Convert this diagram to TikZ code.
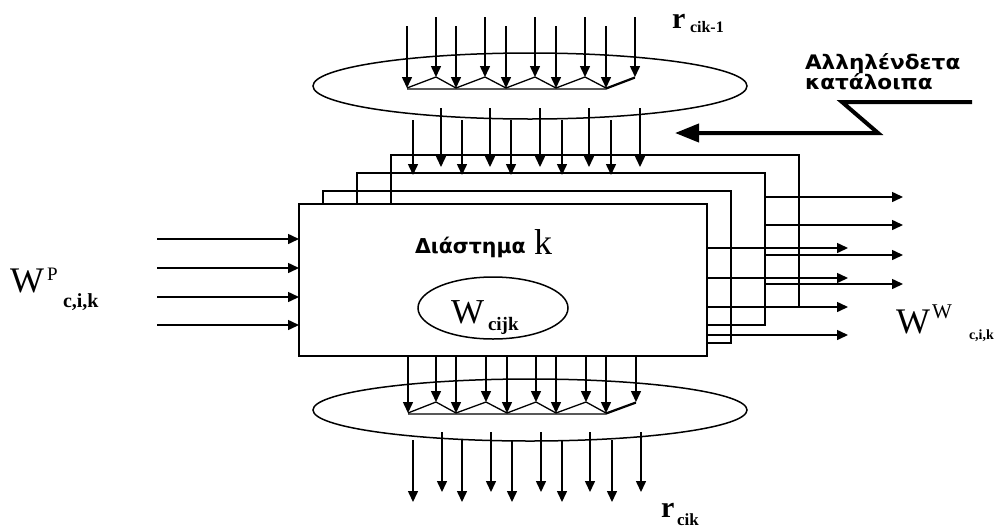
\documentclass[tikz,border=0pt]{standalone}
\usepackage{fontspec}
\setmainfont{Liberation Serif}
\newfontfamily\grk{DejaVu Sans}
\usetikzlibrary{arrows.meta,shapes.geometric}
\begin{document}
\begin{tikzpicture}[x=1pt,y=-1pt, line width=1.5pt,
  arr/.style={-{Triangle[length=11pt,width=10pt]}},
  lbl/.style={anchor=base west, inner sep=0pt, outer sep=0pt},
  grklbl/.style={lbl, font={\grk\bfseries\fontsize{20}{20}\selectfont}},
  layer/.style={draw, minimum width=408pt, minimum height=152pt, anchor=north west, inner sep=0pt, outer sep=0pt},
  fan/.style={line width=1.3pt}]
\useasboundingbox (0,0) rectangle (996,528);
% stacked layers
\node[layer] (r4) at (391,155) {};
\node[layer] (r3) at (357,173) {};
\node[layer] (r2) at (323,191) {};
\node[layer, fill=white] (front) at (299,204) {};
% top ellipse
\node[draw, ellipse, minimum width=434pt, minimum height=66pt, inner sep=0pt] (etop) at (530,86) {};
\foreach \x in {436,485,535,585,635} \draw[arr] (\x,17) -- (\x,77);
\foreach \x in {407,456,506,556,606} \draw[arr] (\x,26) -- (\x,88);
\draw[fan] (407,88) -- (436,77) -- (456,88) -- (485,77) -- (506,88) -- (535,77) -- (556,88) -- (585,77) -- (606,88) -- (635,77);
\draw[fan] (407,89) -- (456,89) -- (506,89) -- (556,89) -- (606,89) -- (635,78);
% arrows into the layers
\foreach \x in {441,490,540,589,640} \draw[arr] (\x,108) -- (\x,167);
\foreach \x in {413,462,511,562,611} \draw[arr] (\x,120) -- (\x,175);
% left inputs
\foreach \y in {239,268,297,325} \draw[arr] (157,\y) -- (299,\y);
% right outputs
\foreach \y in {197,225,255,284} \draw[arr] (766,\y) -- (903,\y);
\foreach \y in {248,278,307,335} \draw[arr] (707,\y) -- (848,\y);
% bottom ellipse
\node[draw, ellipse, minimum width=434pt, minimum height=62pt, inner sep=0pt] (ebot) at (530,410) {};
\foreach \x in {436,486,536,586,636} \draw[arr] (\x,356) -- (\x,402);
\foreach \x in {408,456,507,556,606} \draw[arr] (\x,356) -- (\x,413);
\draw[fan] (408,413) -- (436,402) -- (456,413) -- (486,402) -- (507,413) -- (536,402) -- (556,413) -- (586,402) -- (606,413) -- (636,402);
\draw[fan] (408,414) -- (456,414) -- (507,414) -- (556,414) -- (606,414) -- (636,403);
\foreach \x in {442,491,541,590,641} \draw[arr] (\x,432) -- (\x,492);
\foreach \x in {413,462,512,562,612} \draw[arr] (\x,440) -- (\x,502);
% inner ellipse
\node[draw, ellipse, minimum width=150pt, minimum height=62pt, inner sep=0pt] (wc) at (493,308) {};
% thick arrow
\coordinate (ts) at (972,102);
\coordinate (te) at (675,133);
\draw[line width=4pt, miter limit=10, -{Triangle[length=24pt,width=18pt]}] (ts) -- (842,102) -- (878,133) -- (te);
% labels
\node[lbl] (rt) at (672,28) {\fontsize{30}{30}\selectfont\bfseries r};
\node[lbl] (rts) at (690,32) {\fontsize{16}{16}\selectfont\bfseries cik-1};
\node[grklbl] (al1) at (805,69) {\scalebox{1.08}[1]{Αλληλένδετα}};
\node[grklbl] (al2) at (805,89) {\scalebox{1.08}[1]{κατάλοιπα}};
\node[lbl] (dk) at (415,253) {\grk\bfseries\fontsize{20.5}{20.5}\selectfont Διάστημα};
\node[lbl] (dkk) at (534,254) {\fontsize{36}{36}\selectfont k};
\node[lbl] (wcW) at (451,323) {\fontsize{35}{35}\selectfont W};
\node[lbl] (wcs) at (488,330) {\fontsize{19}{19}\selectfont\bfseries cijk};
\node[lbl] (wpW) at (10,292) {\fontsize{36}{36}\selectfont W};
\node[lbl] (wpP) at (47,280) {\fontsize{19}{19}\selectfont P};
\node[lbl] (wps) at (63,307) {\fontsize{20}{20}\selectfont\bfseries c,i,k};
\node[lbl] (wwW) at (896,333) {\fontsize{36}{36}\selectfont W};
\node[lbl] (wwS) at (932,318) {\fontsize{21}{21}\selectfont W};
\node[lbl] (wws) at (969,339) {\fontsize{14}{14}\selectfont\bfseries c,i,k};
\node[lbl] (rb) at (661,517) {\fontsize{30}{30}\selectfont\bfseries r};
\node[lbl] (rbs) at (677,525) {\fontsize{17}{17}\selectfont\bfseries cik};
\end{tikzpicture}
\end{document}
